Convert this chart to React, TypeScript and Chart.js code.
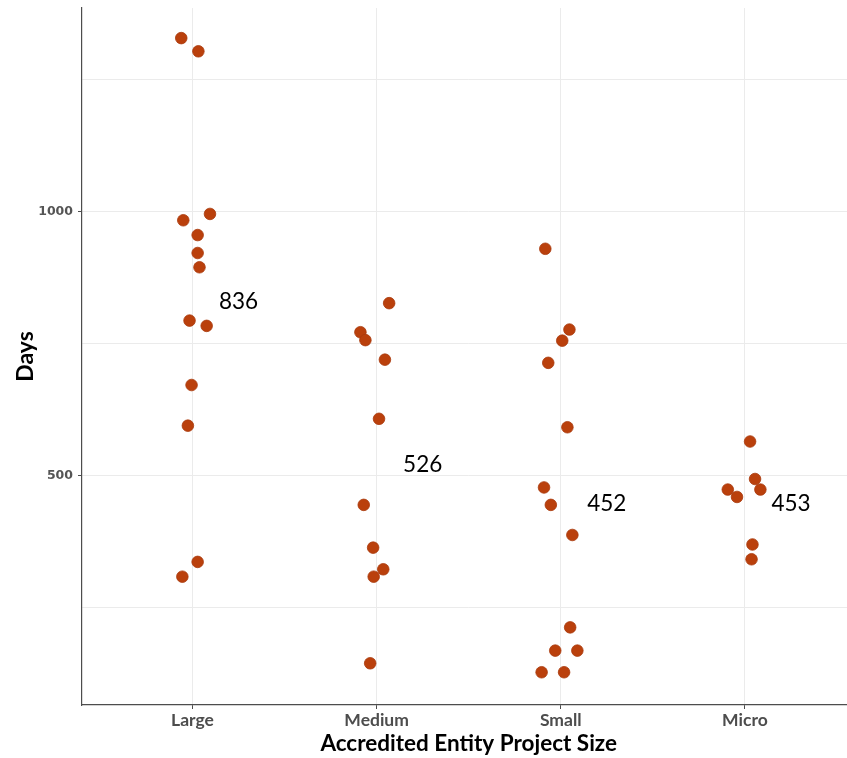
import React, { useEffect, useRef } from "react";
import { Chart, registerables } from "chart.js";

Chart.register(...registerables);

const categories = ["Large", "Medium", "Small", "Micro"];

const largeDays = [1329, 1304, 996, 984, 956, 922, 895, 794, 784, 672, 595, 337, 309];
const largeJitter = [-0.061, 0.032, 0.095, -0.05, 0.028, 0.028, 0.038, -0.016, 0.077, -0.005, -0.025, 0.028, -0.055];

const mediumDays = [827, 772, 757, 720, 608, 445, 364, 323, 309, 145];
const mediumJitter = [0.068, -0.088, -0.061, 0.045, 0.013, -0.07, -0.019, 0.036, -0.016, -0.035];

const smallDays = [930, 777, 756, 714, 592, 478, 445, 388, 213, 169, 169, 128, 128];
const smallJitter = [-0.084, 0.047, 0.008, -0.068, 0.036, -0.091, -0.054, 0.063, 0.051, -0.03, 0.09, -0.104, 0.018];

const microDays = [565, 494, 474, 474, 460, 370, 342];
const microJitter = [0.028, 0.055, 0.084, -0.093, -0.043, 0.041, 0.036];

const meanLabels = [836, 526, 452, 453];

const yTicks = [250, 500, 750, 1000, 1250];
const yLabelled = [500, 1000];

const seriesDays = [largeDays, mediumDays, smallDays, microDays];
const seriesJitter = [largeJitter, mediumJitter, smallJitter, microJitter];

const DOT = "#BA400C";

const meanLabelPlugin = {
  id: "meanLabels",
  afterDatasetsDraw(chart: any) {
    const idx = chart.data.datasets.length - 1;
    const meta = chart.getDatasetMeta(idx);
    const ctx = chart.ctx;
    ctx.save();
    ctx.font = "22.5px Lato, 'Open Sans', sans-serif";
    ctx.fillStyle = "#000000";
    ctx.textAlign = "center";
    ctx.textBaseline = "middle";
    meta.data.forEach((pt: any, i: number) => {
      ctx.fillText(String(meanLabels[i]), pt.x, pt.y + 3);
    });
    ctx.restore();
  },
};

export default function App() {
  const ref = useRef<HTMLCanvasElement>(null);

  useEffect(() => {
    if (!ref.current) return;
    const pointSets = seriesDays.map((days, c) => ({
      label: categories[c],
      data: days.map((d, i) => ({ x: c + 1 + seriesJitter[c][i], y: d })),
      backgroundColor: DOT,
      borderColor: "#A8380B",
      borderWidth: 0.8,
      pointRadius: 5.8,
      pointHoverRadius: 5.8,
    }));
    const labelSet = {
      label: "means",
      data: meanLabels.map((m, i) => ({ x: i + 1 + 0.25, y: m })),
      pointRadius: 0,
      pointHoverRadius: 0,
      backgroundColor: "transparent",
      borderColor: "transparent",
    };
    const chart = new Chart(ref.current, {
      type: "scatter",
      data: { datasets: [...pointSets, labelSet] as any },
      options: {
        animation: false,
        responsive: false,
        events: [],
        layout: { padding: { top: 8, left: 0, right: 0, bottom: 0 } },
        plugins: {
          legend: { display: false },
          tooltip: { enabled: false },
        },
        scales: {
          x: {
            type: "linear",
            min: 0.4,
            max: 4.6,
            afterBuildTicks: (scale: any) => {
              scale.ticks = categories.map((_, i) => ({ value: i + 1 }));
            },
            afterFit: (scale: any) => {
              scale.height = 53;
              scale.paddingLeft = 0;
              scale.paddingRight = 0;
            },
            ticks: {
              autoSkip: false,
              maxRotation: 0,
              padding: 1,
              color: "#4D4D4D",
              font: { family: "Lato, 'Open Sans', sans-serif", size: 17.5, weight: "bold" },
              callback: (v: any) => categories[Math.round(Number(v)) - 1] ?? "",
            },
            grid: {
              color: "#EBEBEB",
              lineWidth: 1,
              tickLength: 4,
              tickColor: "#4D4D4D",
            },
            border: { display: true, color: "#4D4D4D", width: 1.2 },
            title: {
              display: true,
              text: "Accredited Entity Project Size",
              color: "#000000",
              font: { family: "Lato, 'Open Sans', sans-serif", size: 22.5, weight: "bold" },
              padding: { top: 0, bottom: 1 },
            },
          },
          y: {
            type: "linear",
            min: 66,
            max: 1386,
            afterBuildTicks: (scale: any) => {
              scale.ticks = yTicks.map((v) => ({ value: v }));
            },
            afterFit: (scale: any) => {
              scale.width = 82;
              scale.paddingTop = 0;
              scale.paddingBottom = 0;
            },
            ticks: {
              padding: 5,
              color: "#555555",
              font: { family: "'DejaVu Sans', sans-serif", size: 12.5, weight: "bold" },
              callback: (v: any) => (yLabelled.includes(Number(v)) ? String(v) : ""),
            },
            grid: {
              color: "#EBEBEB",
              lineWidth: 1,
              tickLength: 4,
              tickColor: (ctx: any) =>
                ctx.tick && yLabelled.includes(ctx.tick.value) ? "#4D4D4D" : "rgba(0,0,0,0)",
            },
            border: { display: true, color: "#4D4D4D", width: 1.2 },
            title: {
              display: true,
              text: "Days",
              color: "#000000",
              font: { family: "Lato, 'Open Sans', sans-serif", size: 23, weight: "bold" },
              padding: { top: 12, bottom: 0 },
            },
          },
        },
      },
      plugins: [meanLabelPlugin],
    });
    return () => chart.destroy();
  }, []);

  return (
    <div
      style={{
        position: "fixed",
        left: 0,
        top: 0,
        width: 847,
        height: 758,
        overflow: "hidden",
        background: "#ffffff",
      }}
    >
      <canvas ref={ref} width={862} height={758} style={{ display: "block" }} />
    </div>
  );
}
